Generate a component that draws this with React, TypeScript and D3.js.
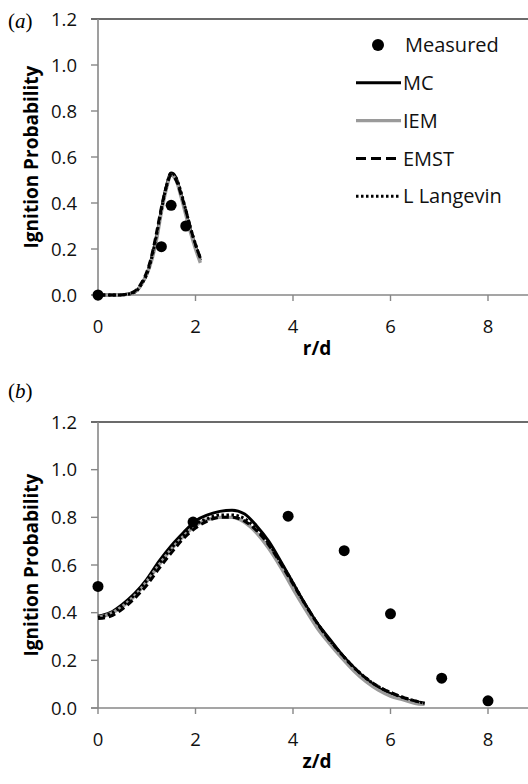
import React from "react";
import * as d3 from "d3";

// ---------- Data ----------
const yTicks = [0, 0.2, 0.4, 0.6, 0.8, 1.0, 1.2];
const xTicks = [0, 2, 4, 6, 8];

// Panel (a): radial profile
const rGrid = [0, 0.2, 0.4, 0.6, 0.7, 0.8, 0.9, 1.0, 1.1, 1.2, 1.3, 1.4, 1.5, 1.6, 1.7, 1.8, 1.9, 2.0, 2.1];
const mcA = [0, 0, 0, 0.003, 0.008, 0.02, 0.05, 0.09, 0.16, 0.25, 0.37, 0.47, 0.53, 0.51, 0.44, 0.36, 0.28, 0.21, 0.15];
const iemA = [0, 0, 0, 0.003, 0.008, 0.02, 0.05, 0.09, 0.15, 0.24, 0.36, 0.46, 0.52, 0.5, 0.43, 0.35, 0.27, 0.2, 0.14];
const emstA = [0, 0, 0, 0.004, 0.01, 0.025, 0.055, 0.1, 0.17, 0.27, 0.38, 0.47, 0.52, 0.5, 0.44, 0.37, 0.29, 0.22, 0.16];
const llA = [0, 0, 0, 0.003, 0.008, 0.02, 0.05, 0.09, 0.16, 0.26, 0.37, 0.47, 0.53, 0.51, 0.45, 0.37, 0.29, 0.22, 0.16];
const measRA = [0, 1.3, 1.5, 1.8];
const measPA = [0, 0.21, 0.39, 0.3];

// Panel (b): axial profile
const zGrid = [0, 0.25, 0.5, 0.75, 1.0, 1.25, 1.5, 1.75, 2.0, 2.25, 2.5, 2.75, 3.0, 3.25, 3.5, 3.75, 4.0, 4.25, 4.5, 4.75, 5.0, 5.25, 5.5, 5.75, 6.0, 6.25, 6.5, 6.7];
const mcB = [0.385, 0.4, 0.435, 0.48, 0.54, 0.615, 0.68, 0.735, 0.785, 0.81, 0.825, 0.83, 0.815, 0.765, 0.7, 0.615, 0.525, 0.435, 0.355, 0.29, 0.225, 0.17, 0.12, 0.085, 0.06, 0.04, 0.025, 0.02];
const iemB = [0.38, 0.395, 0.425, 0.47, 0.53, 0.6, 0.665, 0.72, 0.765, 0.79, 0.8, 0.8, 0.78, 0.735, 0.67, 0.59, 0.5, 0.415, 0.335, 0.27, 0.21, 0.155, 0.11, 0.075, 0.05, 0.035, 0.02, 0.015];
const emstB = [0.375, 0.385, 0.415, 0.46, 0.515, 0.585, 0.65, 0.71, 0.755, 0.785, 0.8, 0.8, 0.785, 0.745, 0.685, 0.605, 0.52, 0.435, 0.355, 0.285, 0.225, 0.17, 0.125, 0.09, 0.065, 0.045, 0.03, 0.02];
const llB = [0.38, 0.395, 0.43, 0.475, 0.535, 0.605, 0.67, 0.725, 0.77, 0.795, 0.81, 0.81, 0.795, 0.75, 0.69, 0.61, 0.525, 0.435, 0.355, 0.285, 0.225, 0.17, 0.125, 0.09, 0.065, 0.045, 0.03, 0.02];
const measZB = [0, 1.95, 3.9, 5.05, 6.0, 7.05, 8.0];
const measPB = [0.51, 0.78, 0.805, 0.66, 0.395, 0.125, 0.03];

const seriesNames = ["Measured", "MC", "IEM", "EMST", "L Langevin"];

// ---------- Styles ----------
const FONT = "'Open Sans', sans-serif";
const AXIS = "#878787";
const styles: Record<string, { stroke: string; width: number; dash?: string }> = {
  MC: { stroke: "#000", width: 3 },
  IEM: { stroke: "#9a9a9a", width: 3.4 },
  EMST: { stroke: "#000", width: 3, dash: "7,4" },
  "L Langevin": { stroke: "#000", width: 3, dash: "2.5,2.5" },
};

type PanelProps = {
  top: number;
  bottom: number;
  label: string;
  xTitle: string;
  xGrid: number[];
  models: { name: string; vals: number[] }[];
  measX: number[];
  measY: number[];
  legend?: boolean;
  labelY: number;
};

function Panel(p: PanelProps) {
  const x = d3.scaleLinear().domain([0, 9]).range([98, 536.75]);
  const y = d3.scaleLinear().domain([0, 1.2]).range([p.bottom, p.top]);
  const line = d3
    .line<[number, number]>()
    .x((d) => x(d[0]))
    .y((d) => y(d[1]))
    .curve(d3.curveMonotoneX);
  const order = ["MC", "IEM", "EMST", "L Langevin"];
  return (
    <g>
      {/* panel label */}
      <text x={8} y={p.labelY} fontFamily="'Liberation Serif', serif" fontSize={21}>
        (<tspan fontStyle="italic">{p.label}</tspan>)
      </text>
      {/* top border */}
      <line x1={x(0) - 7} x2={528} y1={y(1.2)} y2={y(1.2)} stroke="#3a3a3a" strokeWidth={1.6} />
      {/* y axis */}
      <line x1={x(0)} x2={x(0)} y1={y(1.2)} y2={y(0)} stroke={AXIS} strokeWidth={1.6} />
      {yTicks.map((t) => (
        <g key={"y" + t}>
          {t < 1.2 && <line x1={x(0) - 7} x2={x(0)} y1={y(t)} y2={y(t)} stroke={AXIS} strokeWidth={1.4} />}
          <text x={77} y={y(t)} dy="0.36em" textAnchor="end" fontFamily={FONT} fontSize={18.5} fill="#111">
            {t.toFixed(1)}
          </text>
        </g>
      ))}
      {/* x axis */}
      <line x1={x(0) - 7} x2={528} y1={y(0)} y2={y(0)} stroke={AXIS} strokeWidth={1.6} />
      {xTicks.map((t) => (
        <g key={"x" + t}>
          <line x1={x(t)} x2={x(t)} y1={y(0)} y2={y(0) + 6} stroke={AXIS} strokeWidth={1.4} />
          <text x={x(t)} y={y(0) + 38} textAnchor="middle" fontFamily={FONT} fontSize={18.5} fill="#111">
            {t}
          </text>
        </g>
      ))}
      {/* titles */}
      <text x={317} y={y(0) + 60} textAnchor="middle" fontFamily={FONT} fontSize={19} fontWeight="bold">
        {p.xTitle}
      </text>
      <text
        transform={`translate(38,${(y(0) + y(1.2)) / 2}) rotate(-90)`}
        textAnchor="middle"
        fontFamily={FONT}
        fontSize={19}
        fontWeight="bold"
      >
        Ignition Probability
      </text>
      {/* model curves */}
      {order.map((name) => {
        const m = p.models.find((mm) => mm.name === name)!;
        const st = styles[name];
        const pts = p.xGrid.map((xv, i) => [xv, m.vals[i]] as [number, number]);
        return (
          <path
            key={name}
            d={line(pts) || ""}
            fill="none"
            stroke={st.stroke}
            strokeWidth={st.width}
            strokeDasharray={st.dash}
          />
        );
      })}
      {/* measured */}
      {p.measX.map((xv, i) => (
        <circle key={"m" + i} cx={x(xv)} cy={y(p.measY[i])} r={5.5} fill="#000" />
      ))}
      {/* legend */}
      {p.legend && (
        <g fontFamily={FONT} fontSize={20} fill="#111">
          {seriesNames.map((n, i) => {
            const ly = 45 + i * 37.8;
            return (
              <g key={n}>
                {n === "Measured" ? (
                  <circle cx={378} cy={ly} r={6} fill="#000" />
                ) : (
                  <line
                    x1={356}
                    x2={401}
                    y1={ly}
                    y2={ly}
                    stroke={styles[n].stroke}
                    strokeWidth={styles[n].width}
                    strokeDasharray={n === "EMST" ? "10,5" : styles[n].dash}
                  />
                )}
                <text x={n === "Measured" ? 405 : 403} y={ly} dy="0.36em">
                  {n}
                </text>
              </g>
            );
          })}
        </g>
      )}
    </g>
  );
}

export default function App() {
  return (
    <svg
      width={528}
      height={784}
      style={{ position: "absolute", left: 0, top: 0, background: "#fff" }}
    >
      <rect width={528} height={784} fill="#fff" />
      <Panel
        top={19}
        bottom={295}
        label="a"
        labelY={28}
        xTitle="r/d"
        xGrid={rGrid}
        models={[
          { name: "MC", vals: mcA },
          { name: "IEM", vals: iemA },
          { name: "EMST", vals: emstA },
          { name: "L Langevin", vals: llA },
        ]}
        measX={measRA}
        measY={measPA}
        legend
      />
      <Panel
        top={422}
        bottom={708}
        label="b"
        labelY={398}
        xTitle="z/d"
        xGrid={zGrid}
        models={[
          { name: "MC", vals: mcB },
          { name: "IEM", vals: iemB },
          { name: "EMST", vals: emstB },
          { name: "L Langevin", vals: llB },
        ]}
        measX={measZB}
        measY={measPB}
      />
    </svg>
  );
}
